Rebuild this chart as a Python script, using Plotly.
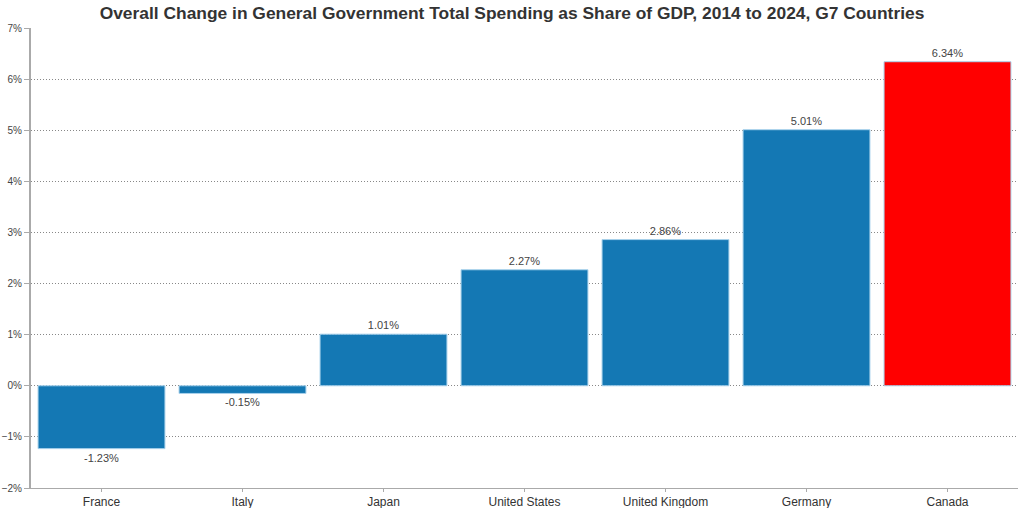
import plotly.graph_objects as go

countries = ["France", "Italy", "Japan", "United States", "United Kingdom", "Germany", "Canada"]
changes = [-1.23, -0.15, 1.01, 2.27, 2.86, 5.01, 6.34]
colors = ["#1478b4"] * 6 + ["#ff0000"]
labels = [f"{v:.2f}%" for v in changes]

fig = go.Figure(go.Bar(
    x=countries, y=changes, marker=dict(color=colors, line=dict(color="#a9d2ec", width=1)),
    text=labels, textposition="outside", cliponaxis=False,
    textfont=dict(size=11, color="#444444"),
))
fig.update_layout(
    width=1024, height=508,
    margin=dict(l=31, r=6, t=28, b=20),
    paper_bgcolor="white", plot_bgcolor="white",
    font=dict(family="Liberation Sans, Arial, sans-serif", color="#333333"),
    title=dict(text="<b>Overall Change in General Government Total Spending as Share of GDP, 2014 to 2024, G7 Countries</b>",
               x=0.5, xanchor="center", y=0.975, yanchor="middle", font=dict(size=17.4, color="#333333")),
    bargap=0.1, showlegend=False,
)
fig.update_yaxes(range=[-2, 7], dtick=1, ticksuffix="%", showgrid=True, gridcolor="#888888", griddash="1px,2px",
                 gridwidth=1, zeroline=False, showline=True, linecolor="#aaaaaa", linewidth=2, automargin=False,
                 ticks="outside", ticklen=5, tickcolor="#aaaaaa", tickfont=dict(size=10, color="#444444"))
fig.update_xaxes(showline=True, linecolor="#aaaaaa", linewidth=1, ticks="outside", ticklen=3, automargin=False,
                 tickcolor="#aaaaaa", tickfont=dict(size=12, color="#333333"), showgrid=False)
fig.write_html("out.html")
